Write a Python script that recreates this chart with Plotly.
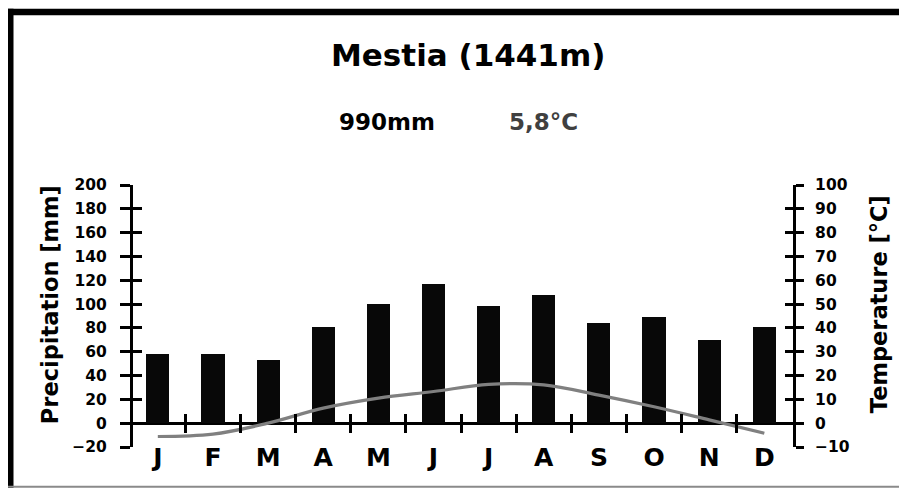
import plotly.graph_objects as go

months = ["J", "F", "M", "A", "M", "J", "J", "A", "S", "O", "N", "D"]
precip_mm = [58, 58, 53, 81, 100, 117, 98, 108, 84, 89, 70, 81]
temp_c = [-5.6, -4.6, 0.0, 6.3, 10.5, 13.3, 16.3, 16.1, 11.8, 6.9, 1.4, -4.2]
title_text = "Mestia (1441m)"
annual_precip = "990mm"
annual_temp = "5,8°C"
boundaries = [i + 0.5 for i in range(len(months) - 1)]

W, H = 899, 488
# plot area in screen pixels
L, R, T, B = 133, 793, 185, 446.7
xr = [-0.45, 11.52]


def px(x):
    return (x - L) / (R - L)


def py(y):
    return (B - y) / (B - T)


FONT = "DejaVu Sans"
bold = dict(family=FONT, weight="bold", color="black")

fig = go.Figure()
fig.add_trace(go.Bar(x=list(range(12)), y=precip_mm, width=0.42,
                     marker=dict(color="#080808", line=dict(width=0)),
                     yaxis="y", xaxis="x", hoverinfo="skip"))
fig.add_trace(go.Scatter(x=list(range(12)), y=temp_c, mode="lines",
                         line=dict(color="#808080", width=3.2, shape="spline", smoothing=1.0),
                         yaxis="y2", xaxis="x", hoverinfo="skip"))
# helper traces so the overlay axes are drawn
fig.add_trace(go.Scatter(x=[None], y=[None], xaxis="x2", yaxis="y", showlegend=False))
fig.add_trace(go.Scatter(x=[None], y=[None], xaxis="x3", yaxis="y", showlegend=False))
fig.add_trace(go.Scatter(x=[None], y=[None], xaxis="x", yaxis="y3", showlegend=False))
fig.add_trace(go.Scatter(x=[None], y=[None], xaxis="x", yaxis="y4", showlegend=False))

zero_pos = (0 - (-20)) / 220.0

fig.update_layout(
    width=W, height=H,
    margin=dict(l=L, r=W - R, t=T, b=H - B, pad=0),
    paper_bgcolor="white", plot_bgcolor="white",
    showlegend=False,
    bargap=0,
    xaxis=dict(range=xr, tickmode="array", tickvals=list(range(12)), ticktext=months,
               ticks="", showline=False, showgrid=False, zeroline=False,
               tickfont=dict(size=25, **bold), ticklabelstandoff=-7),
    xaxis2=dict(range=xr, overlaying="x", anchor="free", position=zero_pos,
                tickmode="array", tickvals=boundaries, ticks="outside", ticklen=9,
                tickwidth=2.8, tickcolor="black", showticklabels=False,
                showline=False, showgrid=False, zeroline=False),
    xaxis3=dict(range=xr, overlaying="x", anchor="free", position=zero_pos,
                tickmode="array", tickvals=boundaries, ticks="inside", ticklen=9,
                tickwidth=2.8, tickcolor="black", showticklabels=False,
                showline=False, showgrid=False, zeroline=False),
    yaxis=dict(range=[-20, 200], dtick=20, tick0=0, ticks="outside", ticklen=10,
               tickwidth=2.8, tickcolor="black", showline=True, linecolor="black",
               linewidth=3, showgrid=False, zeroline=True, zerolinecolor="black",
               zerolinewidth=3, tickfont=dict(size=15.5, **bold), ticklabelstandoff=10),
    yaxis2=dict(range=[-10, 100], dtick=10, tick0=0, overlaying="y", side="right",
                anchor="x", ticks="outside", ticklen=8, tickwidth=2.8, tickcolor="black",
                showline=True, linecolor="black", linewidth=3, showgrid=False,
                zeroline=False, tickfont=dict(size=15.5, **bold), ticklabelstandoff=8),
    yaxis3=dict(range=[-20, 200], dtick=20, tick0=0, overlaying="y", side="left",
                anchor="x", ticks="inside", ticklen=9, tickwidth=2.8, tickcolor="black",
                showticklabels=False, showline=False, showgrid=False, zeroline=False),
    yaxis4=dict(range=[-10, 100], dtick=10, tick0=0, overlaying="y", side="right",
                anchor="x", ticks="inside", ticklen=8, tickwidth=2.8, tickcolor="black",
                showticklabels=False, showline=False, showgrid=False, zeroline=False),
)

annotations = [
    dict(text=title_text, x=px(468), y=py(55), font=dict(size=31, **bold)),
    dict(text=annual_precip, x=px(387), y=py(122), font=dict(size=23, **bold)),
    dict(text=annual_temp, x=px(543), y=py(122),
         font=dict(size=23, family=FONT, weight="bold", color="#404040")),
    dict(text="Precipitation [mm]", x=px(50), y=py(305), textangle=-90,
         font=dict(size=22.5, **bold)),
    dict(text="Temperature [°C]", x=px(879), y=py(304), textangle=-90,
         font=dict(size=22.5, **bold)),
]
for a in annotations:
    a.update(xref="paper", yref="paper", xanchor="center", yanchor="middle",
             showarrow=False)
fig.update_layout(annotations=annotations)

shapes = [
    dict(type="rect", x0=px(8), x1=px(13.5), y0=py(488), y1=py(9),
         fillcolor="black", line=dict(width=0)),
    dict(type="rect", x0=px(8), x1=px(899), y0=py(15.5), y1=py(9),
         fillcolor="black", line=dict(width=0)),
    dict(type="line", x0=px(8), x1=px(899), y0=py(486.5), y1=py(486.5),
         line=dict(color="#8a8a8a", width=2)),
]
for s in shapes:
    s.update(xref="paper", yref="paper", layer="above")
fig.update_layout(shapes=shapes)

fig.write_html("out.html",
               config={"displayModeBar": False},
               post_script="document.body.style.margin='0';"
                           "document.body.style.overflow='hidden';")
